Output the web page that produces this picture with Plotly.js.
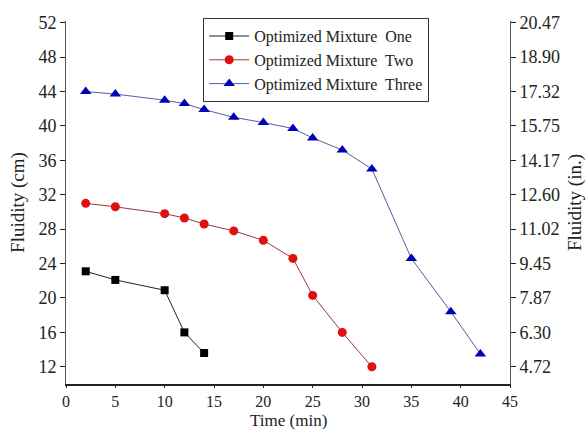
<!DOCTYPE html>
<html>
<head>
<meta charset="utf-8">
<script src="https://cdn.plot.ly/plotly-3.0.1.min.js"></script>
<style>html,body{margin:0;padding:0;background:#fff;}#chart{width:586px;height:432px;}</style>
</head>
<body>
<div id="chart"></div>
<script>
const timeOne = [2, 5, 10, 12, 14];
const fluidityOne = [23.1, 22.1, 20.9, 16.0, 13.6];
const timeTwo = [2, 5, 10, 12, 14, 17, 20, 23, 25, 28, 31];
const fluidityTwo = [31.0, 30.6, 29.8, 29.3, 28.6, 27.8, 26.7, 24.6, 20.3, 16.0, 12.0];
const timeThree = [2, 5, 10, 12, 14, 17, 20, 23, 25, 28, 31, 35, 39, 42];
const fluidityThree = [44.0, 43.7, 43.0, 42.6, 41.9, 41.0, 40.4, 39.7, 38.6, 37.2, 35.0, 24.6, 18.4, 13.5];
const seriesNames = ['Optimized Mixture  One', 'Optimized Mixture  Two', 'Optimized Mixture  Three'];
const cmTicks = [12, 16, 20, 24, 28, 32, 36, 40, 44, 48, 52];
const inchTickLabels = ['4.72', '6.30', '7.87', '9.45', '11.02', '12.60', '14.17', '15.75', '17.32', '18.90', '20.47'];
const xTitle = 'Time (min)';
const cmPerInch = 2.54;

const font = 'Liberation Serif, Times New Roman, serif';
const traces = [
  {x: timeOne, y: fluidityOne, name: seriesNames[0], mode: 'lines+markers',
   line: {color: '#222222', width: 1}, marker: {symbol: 'square', size: 8, color: '#000000'}},
  {x: timeTwo, y: fluidityTwo, name: seriesNames[1], mode: 'lines+markers',
   line: {color: '#9a3a3a', width: 1}, marker: {symbol: 'circle', size: 9, color: '#e01010'}},
  {x: timeThree, y: fluidityThree, name: seriesNames[2], mode: 'lines+markers',
   line: {color: '#5a5aa0', width: 1}, marker: {symbol: 'triangle-up', size: 10, color: '#0000b4'}},
  {x: [null], y: [null], yaxis: 'y2', showlegend: false, hoverinfo: 'skip', mode: 'markers'}
];
const layout = {
  width: 586, height: 432,
  margin: {l: 66, r: 76, t: 21, b: 48},
  paper_bgcolor: '#fff', plot_bgcolor: '#fff',
  font: {family: font, size: 16, color: '#222'},
  showlegend: true,
  legend: {x: 0.309, y: 1.008, xanchor: 'left', yanchor: 'top', bgcolor: '#fff',
           bordercolor: '#333', borderwidth: 1, font: {family: font, size: 16, color: '#222'},
           tracegroupgap: 0, itemwidth: 40},
  xaxis: {range: [0, 45], tickvals: [0,5,10,15,20,25,30,35,40,45], showgrid: false, zeroline: false,
          showline: true, linecolor: '#222', linewidth: 2, ticks: 'outside', ticklen: 2, tickcolor: '#222',
          tickfont: {family: font, size: 16, color: '#222'}},
  yaxis: {range: [10, 52.2], tickvals: cmTicks, showgrid: false, zeroline: false,
          showline: true, linecolor: '#555', linewidth: 1, ticks: 'outside', ticklen: 5, tickcolor: '#222',
          tickfont: {family: font, size: 18, color: '#222'},
          title: {text: 'Fluidity (cm)', font: {family: font, size: 19, color: '#222'}, standoff: 8}},
  yaxis2: {overlaying: 'y', side: 'right', range: [10 / cmPerInch, 52.2 / cmPerInch],
           tickvals: cmTicks.map(v => v / cmPerInch), ticktext: inchTickLabels,
           showgrid: false, zeroline: false, showline: true, linecolor: '#555', linewidth: 1,
           ticks: 'outside', ticklen: 5, tickcolor: '#222',
           tickfont: {family: font, size: 18, color: '#222'},
           title: {text: 'Fluidity (in.)', font: {family: font, size: 19, color: '#222'}, standoff: 8}},
  annotations: [{text: xTitle, xref: 'paper', yref: 'paper', x: 0.5, y: -0.1,
                 xanchor: 'center', yanchor: 'middle', showarrow: false,
                 font: {family: font, size: 17, color: '#222'}}]
};
Plotly.newPlot('chart', traces, layout, {displayModeBar: false, staticPlot: true});
</script>
</body>
</html>
